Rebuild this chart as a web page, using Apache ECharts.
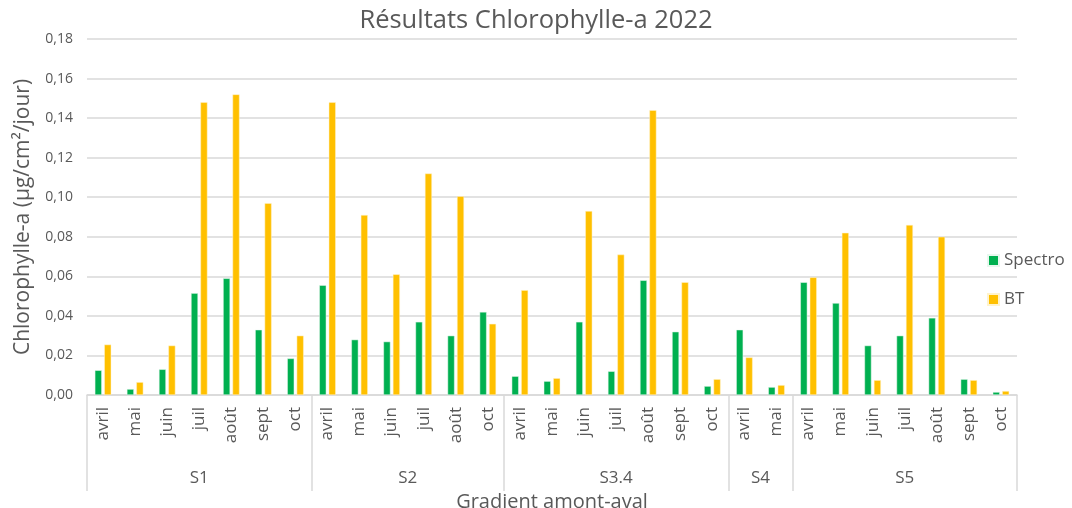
<!DOCTYPE html>
<html>
<head>
<meta charset="utf-8">
<script src="https://cdn.jsdelivr.net/npm/echarts@6/dist/echarts.min.js"></script>
<style>
  html, body { margin: 0; padding: 0; background: #fff; }
  #main { width: 1072px; height: 508px; }
</style>
</head>
<body>
<div id="main"></div>
<script>
// stations (groups) and the months sampled in each
var groups = ['S1', 'S2', 'S3.4', 'S4', 'S5'];
var groupMonths = [
    ['avril', 'mai', 'juin', 'juil', 'août', 'sept', 'oct'],
    ['avril', 'mai', 'juin', 'juil', 'août', 'oct'],
    ['avril', 'mai', 'juin', 'juil', 'août', 'sept', 'oct'],
    ['avril', 'mai'],
    ['avril', 'mai', 'juin', 'juil', 'août', 'sept', 'oct']
];

var spectro = [
    0.0125, 0.003, 0.013, 0.0515, 0.059, 0.033, 0.0185,
    0.0555, 0.028, 0.027, 0.037, 0.030, 0.042,
    0.0095, 0.007, 0.037, 0.012, 0.058, 0.032, 0.0045,
    0.033, 0.004,
    0.057, 0.0465, 0.025, 0.030, 0.039, 0.008, 0.0015
];
var bt = [
    0.0255, 0.0065, 0.025, 0.148, 0.152, 0.097, 0.030,
    0.148, 0.091, 0.061, 0.112, 0.1005, 0.036,
    0.053, 0.0085, 0.093, 0.071, 0.144, 0.057, 0.008,
    0.019, 0.005,
    0.0595, 0.082, 0.0075, 0.086, 0.080, 0.0075, 0.002
];

var yTicks = { min: 0, max: 0.18, interval: 0.02 };

var chart = {};

chart.init = function () {
    chart.render();
};

chart.render = function () {
    var months = [];
    groupMonths.forEach(function (list) {
        list.forEach(function (m) { months.push(m); });
    });

    // second axis in half-category steps, used for the station labels
    // and the separator lines between stations
    var halfSlots = months.length * 2 + 1;
    var groupAxis = [];
    var boundaries = {};
    for (var i = 0; i < halfSlots; i++) groupAxis.push('');
    var pos = 0;
    boundaries[0] = true;
    groupMonths.forEach(function (list, g) {
        var center = pos + list.length;        // in half units
        groupAxis[center] = groups[g];
        pos += list.length * 2;
        boundaries[pos] = true;
    });

    var txt = '#595959';
    var grey = '#d9d9d9';
    var font = 'Open Sans';

    var myChart = echarts.init(document.getElementById('main'));
    var option = {
        animation: false,
        textStyle: { fontFamily: font },
        title: {
            text: 'Résultats Chlorophylle-a 2022',
            left: 'center',
            top: 3,
            textStyle: { fontSize: 25.5, fontWeight: 'normal', color: txt, fontFamily: font }
        },
        legend: {
            orient: 'vertical',
            left: 982,
            top: 247,
            itemWidth: 11,
            itemHeight: 11,
            itemGap: 22,
            icon: 'rect',
            textStyle: { fontSize: 17, color: txt, fontFamily: font },
            data: ['Spectro', 'BT']
        },
        grid: { left: 87, right: 55, top: 39, bottom: 113, outerBoundsMode: 'none' },
        xAxis: [
            {
                type: 'category',
                data: months,
                position: 'bottom',
                axisLine: { lineStyle: { color: grey, width: 1.5 } },
                axisTick: { show: false },
                axisLabel: { rotate: 90, fontSize: 17, color: txt, margin: 12, fontFamily: font, interval: 0 }
            },
            {
                type: 'category',
                data: groupAxis,
                boundaryGap: false,
                position: 'bottom',
                axisLine: { show: false },
                axisTick: {
                    show: true,
                    length: 96,
                    interval: function (idx) { return !!boundaries[idx]; },
                    lineStyle: { color: grey, width: 1.5 }
                },
                axisLabel: {
                    interval: 0,
                    fontSize: 17,
                    color: txt,
                    margin: 75,
                    fontFamily: font
                },
                name: 'Gradient amont-aval',
                nameLocation: 'middle',
                nameGap: 91,
                nameTextStyle: { fontSize: 20, color: txt, fontFamily: font }
            }
        ],
        yAxis: {
            type: 'value',
            min: yTicks.min,
            max: yTicks.max,
            interval: yTicks.interval,
            name: 'Chlorophylle-a (µg/cm²/jour)',
            nameLocation: 'middle',
            nameGap: 53,
            nameTextStyle: { fontSize: 21, color: txt, fontFamily: font },
            axisLine: { show: false },
            axisTick: { show: false },
            axisLabel: {
                fontSize: 14,
                color: txt,
                margin: 14,
                fontFamily: font,
                formatter: function (v) { return v.toFixed(2).replace('.', ','); }
            },
            splitLine: { lineStyle: { color: grey, width: 1.5 } }
        },
        series: [
            {
                name: 'Spectro',
                type: 'bar',
                xAxisIndex: 0,
                data: spectro,
                barWidth: 7,
                barGap: '35%',
                itemStyle: { color: '#00B050', borderColor: '#e8f7ee', borderWidth: 0.5 }
            },
            {
                name: 'BT',
                type: 'bar',
                xAxisIndex: 0,
                data: bt,
                barWidth: 7,
                barGap: '35%',
                itemStyle: { color: '#FFC000', borderColor: '#fff3cc', borderWidth: 0.5 }
            }
        ]
    };
    myChart.setOption(option);
};

chart.init();
</script>
</body>
</html>
